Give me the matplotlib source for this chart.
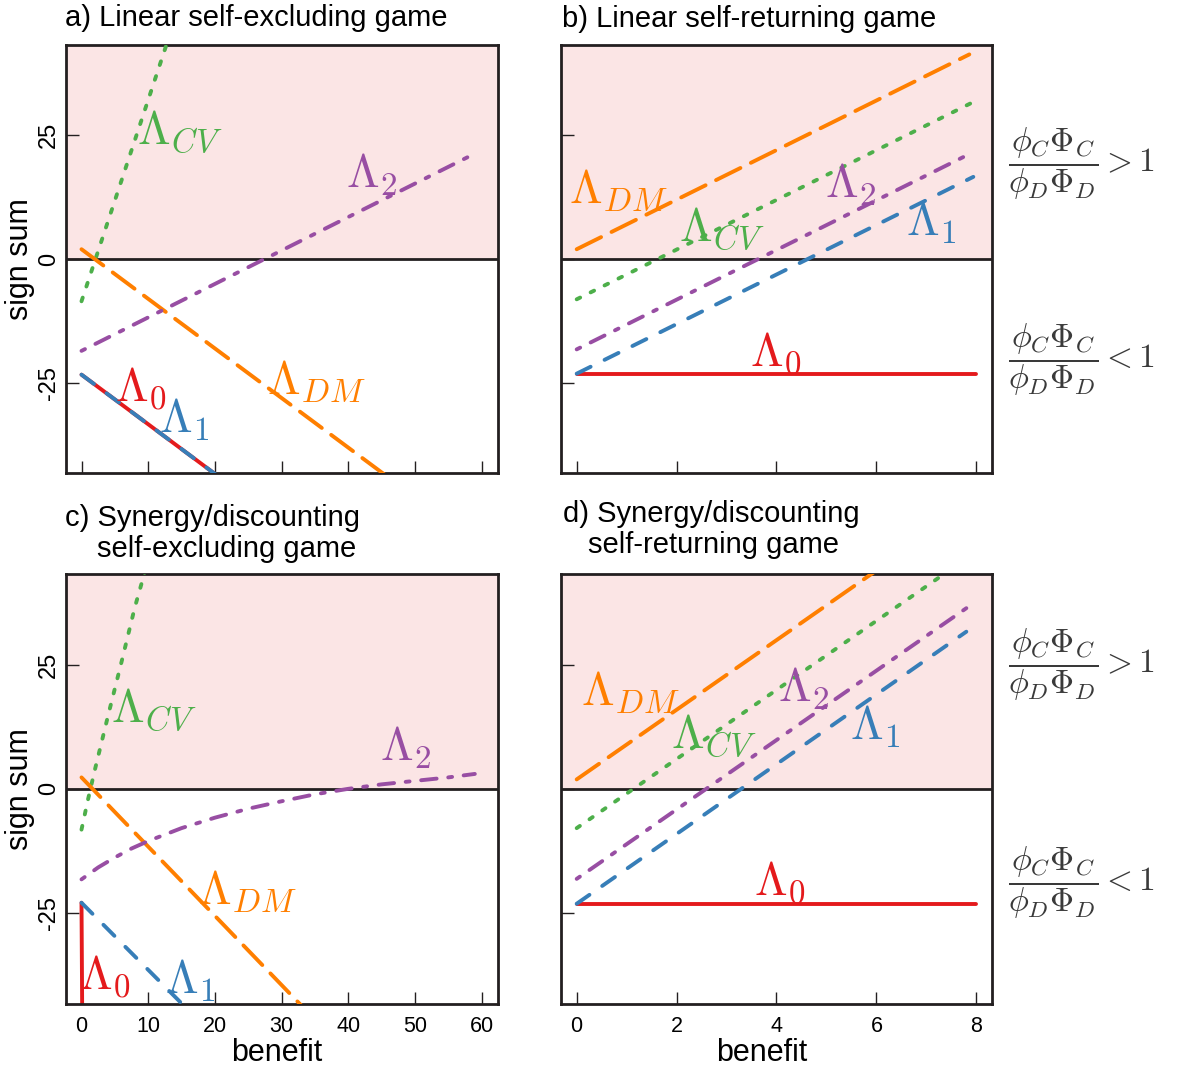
import matplotlib
matplotlib.use('Agg')
import matplotlib.pyplot as plt
from matplotlib import font_manager

# colours (RColorBrewer Set1)
RED, BLUE, GREEN, PURPLE, ORANGE = '#E41A1C', '#377EB8', '#4DAF4A', '#984EA3', '#FF7F00'
PINK = '#fbe5e5'
INK = '#231f20'

# ---- panel a) linear self-excluding ----
a_cv_x, a_cv = [0, 13], [-8.5, 44.3]
a_dm_x, a_dm = [0, 46], [2.0, -44.0]
a_l2_x, a_l2 = [0, 59], [-18.5, 21.3]
a_l0_x, a_l0 = [0, 21], [-23.3, -44.3]
a_l1_x, a_l1 = [0, 21], [-23.3, -44.3]

# ---- panel b) linear self-returning ----
b_dm_x, b_dm = [0, 7.86], [2.0, 41.3]
b_cv_x, b_cv = [0, 8.0], [-8.1, 32.0]
b_l2_x, b_l2 = [0, 7.86], [-18.2, 21.2]
b_l1_x, b_l1 = [0, 7.94], [-23.1, 16.6]
b_l0_x, b_l0 = [0, 8.0], [-23.1, -23.1]

# ---- panel c) synergy/discounting self-excluding ----
c_cv_x = [0, 1, 2, 4, 6, 8, 10]
c_cv = [-8.2, -2.0, 3.8, 14.8, 25.5, 36.5, 46.0]
c_dm_x, c_dm = [0, 33], [2.3, -43.6]
c_l2_x = [0, 2.5, 5, 7.5, 10, 15, 20, 25, 30, 35, 40, 45, 50, 55, 59]
c_l2 = [-18.2, -15.8, -13.8, -12.0, -10.5, -7.9, -5.8, -4.0, -2.5, -1.1, 0.0, 0.9, 1.6, 2.3, 3.0]
c_l1_x, c_l1 = [0, 15.5], [-22.9, -43.8]
c_l0_x, c_l0 = [0, 0.1], [-22.9, -44.0]

# ---- panel d) synergy/discounting self-returning ----
d_dm_x, d_dm = [0, 6.3], [1.9, 46.0]
d_cv_x, d_cv = [0, 7.6], [-7.9, 44.9]
d_l2_x, d_l2 = [0, 7.94], [-18.1, 37.3]
d_l1_x, d_l1 = [0, 7.8], [-23.1, 31.6]
d_l0_x, d_l0 = [0, 8.0], [-23.1, -23.1]

# label positions (x, y) per panel
lab_a = {'CV': (14.7, 25.7), '2': (43.6, 16.9), 'DM': (35.2, -24.7), '0': (9.0, -26.1), '1': (15.4, -32.5)}
lab_b = {'CV': (2.9, 6.2), '2': (5.48, 14.9), 'DM': (0.83, 13.9), '0': (4.0, -19.0), '1': (7.11, 7.2)}
lab_c = {'CV': (10.8, 15.9), '2': (48.6, 8.3), 'DM': (24.9, -20.6), '0': (3.6, -37.7), '1': (16.3, -38.7)}
lab_d = {'CV': (2.74, 10.7), '2': (4.54, 20.1), 'DM': (1.07, 19.4), '0': (4.07, -18.8), '1': (5.98, 12.4)}

x_ticks_wide = [0, 10, 20, 30, 40, 50, 60]
x_ticks_narrow = [0, 2, 4, 6, 8]
y_ticks = [-25, 0, 25]
ylims = (-43.2, 43.2)

plt.rcParams['font.family'] = ['Liberation Sans', 'DejaVu Sans']
plt.rcParams['mathtext.fontset'] = 'cm'
plt.rcParams['axes.unicode_minus'] = False

names = {f.name for f in font_manager.fontManager.ttflist}
narrow = 'Liberation Sans Narrow' in names

LW = 2.8
styles = {
    'CV': dict(color=GREEN, dashes=(1, 3)),
    'DM': dict(color=ORANGE, dashes=(7, 3)),
    '2': dict(color=PURPLE, dashes=(1, 3, 4, 3)),
    '1': dict(color=BLUE, dashes=(4, 4)),
}
tex = {'CV': r'$\Lambda_{CV}$', 'DM': r'$\Lambda_{DM}$', '2': r'$\Lambda_2$',
       '0': r'$\Lambda_0$', '1': r'$\Lambda_1$'}
lab_col = {'CV': GREEN, 'DM': ORANGE, '2': PURPLE, '0': RED, '1': BLUE}

fig = plt.figure(figsize=(11.86, 10.71), dpi=100)
W, H = 1186, 1071


def make_ax(l, t, r, b):
    return fig.add_axes([l / W, 1 - b / H, (r - l) / W, (b - t) / H])


def setup(ax, xlim, xticks, show_x, show_y):
    ax.set_xlim(xlim)
    ax.set_ylim(ylims)
    ax.axhspan(0, 60, color=PINK, zorder=0, lw=0)
    ax.axhline(0, color=INK, lw=2, zorder=1)
    ax.set_xticks(xticks)
    ax.set_yticks(y_ticks)
    ax.tick_params(direction='in', length=9, width=1, color=INK)
    ax.tick_params(axis='x', labelsize=15.5, pad=9, labelbottom=show_x)
    ax.tick_params(axis='y', labelsize=17, pad=4, labelrotation=90, labelleft=show_y)
    for lab in ax.get_yticklabels():
        lab.set_va('center')
    for s in ax.spines.values():
        s.set_linewidth(2)
        s.set_color(INK)


def draw(ax, series, labels):
    for key, (x, y) in series:
        if key == '0':
            ax.plot(x, y, color=RED, lw=LW, solid_capstyle='round', zorder=2)
        else:
            ax.plot(x, y, lw=LW, dash_capstyle='round', zorder=3, **styles[key])
    for key, (lx, ly) in labels.items():
        ax.text(lx, ly, tex[key], color=lab_col[key], fontsize=34,
                ha='center', va='center', zorder=4)


ax_a = make_ax(65.5, 45, 497.5, 473.3)
setup(ax_a, (-2.4, 62.4), x_ticks_wide, False, True)
draw(ax_a, [('CV', (a_cv_x, a_cv)), ('DM', (a_dm_x, a_dm)), ('2', (a_l2_x, a_l2)),
            ('0', (a_l0_x, a_l0)), ('1', (a_l1_x, a_l1))], lab_a)

ax_b = make_ax(560.7, 45, 992.3, 473.3)
setup(ax_b, (-0.32, 8.32), x_ticks_narrow, False, False)
draw(ax_b, [('DM', (b_dm_x, b_dm)), ('CV', (b_cv_x, b_cv)), ('2', (b_l2_x, b_l2)),
            ('0', (b_l0_x, b_l0)), ('1', (b_l1_x, b_l1))], lab_b)

ax_c = make_ax(65.5, 574, 497.5, 1003.7)
setup(ax_c, (-2.4, 62.4), x_ticks_wide, True, True)
draw(ax_c, [('CV', (c_cv_x, c_cv)), ('DM', (c_dm_x, c_dm)), ('2', (c_l2_x, c_l2)),
            ('0', (c_l0_x, c_l0)), ('1', (c_l1_x, c_l1))], lab_c)

ax_d = make_ax(560.7, 574, 992.3, 1003.7)
setup(ax_d, (-0.32, 8.32), x_ticks_narrow, True, False)
draw(ax_d, [('DM', (d_dm_x, d_dm)), ('CV', (d_cv_x, d_cv)), ('2', (d_l2_x, d_l2)),
            ('0', (d_l0_x, d_l0)), ('1', (d_l1_x, d_l1))], lab_d)

# axis labels
for ax in (ax_a, ax_c):
    ax.set_ylabel('sign sum', fontsize=22)
    ax.yaxis.set_label_coords(-0.07, 0.5)
ax_c.set_xlabel('benefit', fontsize=22)
ax_c.xaxis.set_label_coords(0.49, -0.08)
ax_d.set_xlabel('benefit', fontsize=22)
ax_d.xaxis.set_label_coords(0.466, -0.08)

# titles
fig.text(65 / W, 1 - 26 / H, 'a) Linear self-excluding game', fontsize=21, va='baseline')
if narrow:
    fig.text(562 / W, 1 - 27 / H, 'b) Linear self-returning game', fontsize=24,
             va='baseline', family=['Liberation Sans Narrow', 'DejaVu Sans'])
else:
    fig.text(562 / W, 1 - 27 / H, 'b) Linear self-returning game', fontsize=21, va='baseline')
fig.text(65 / W, 1 - 526 / H, 'c) Synergy/discounting', fontsize=21, va='baseline')
fig.text(96.7 / W, 1 - 556.7 / H, 'self-excluding game', fontsize=21, va='baseline')
fig.text(562.7 / W, 1 - 522 / H, 'd) Synergy/discounting', fontsize=21, va='baseline')
fig.text(587.7 / W, 1 - 553 / H, 'self-returning game', fontsize=21, va='baseline')

# ratio annotations on the right
frac_gt = r'$\dfrac{\phi_C\Phi_C}{\phi_D\Phi_D} > 1$'
frac_lt = r'$\dfrac{\phi_C\Phi_C}{\phi_D\Phi_D} < 1$'
for yy, s in [(164, frac_gt), (360, frac_lt), (665, frac_gt), (883, frac_lt)]:
    fig.text(1008 / W, 1 - yy / H, s, fontsize=24, color='#3a3a3a', ha='left', va='center')

fig.savefig('out.png', dpi=100)
